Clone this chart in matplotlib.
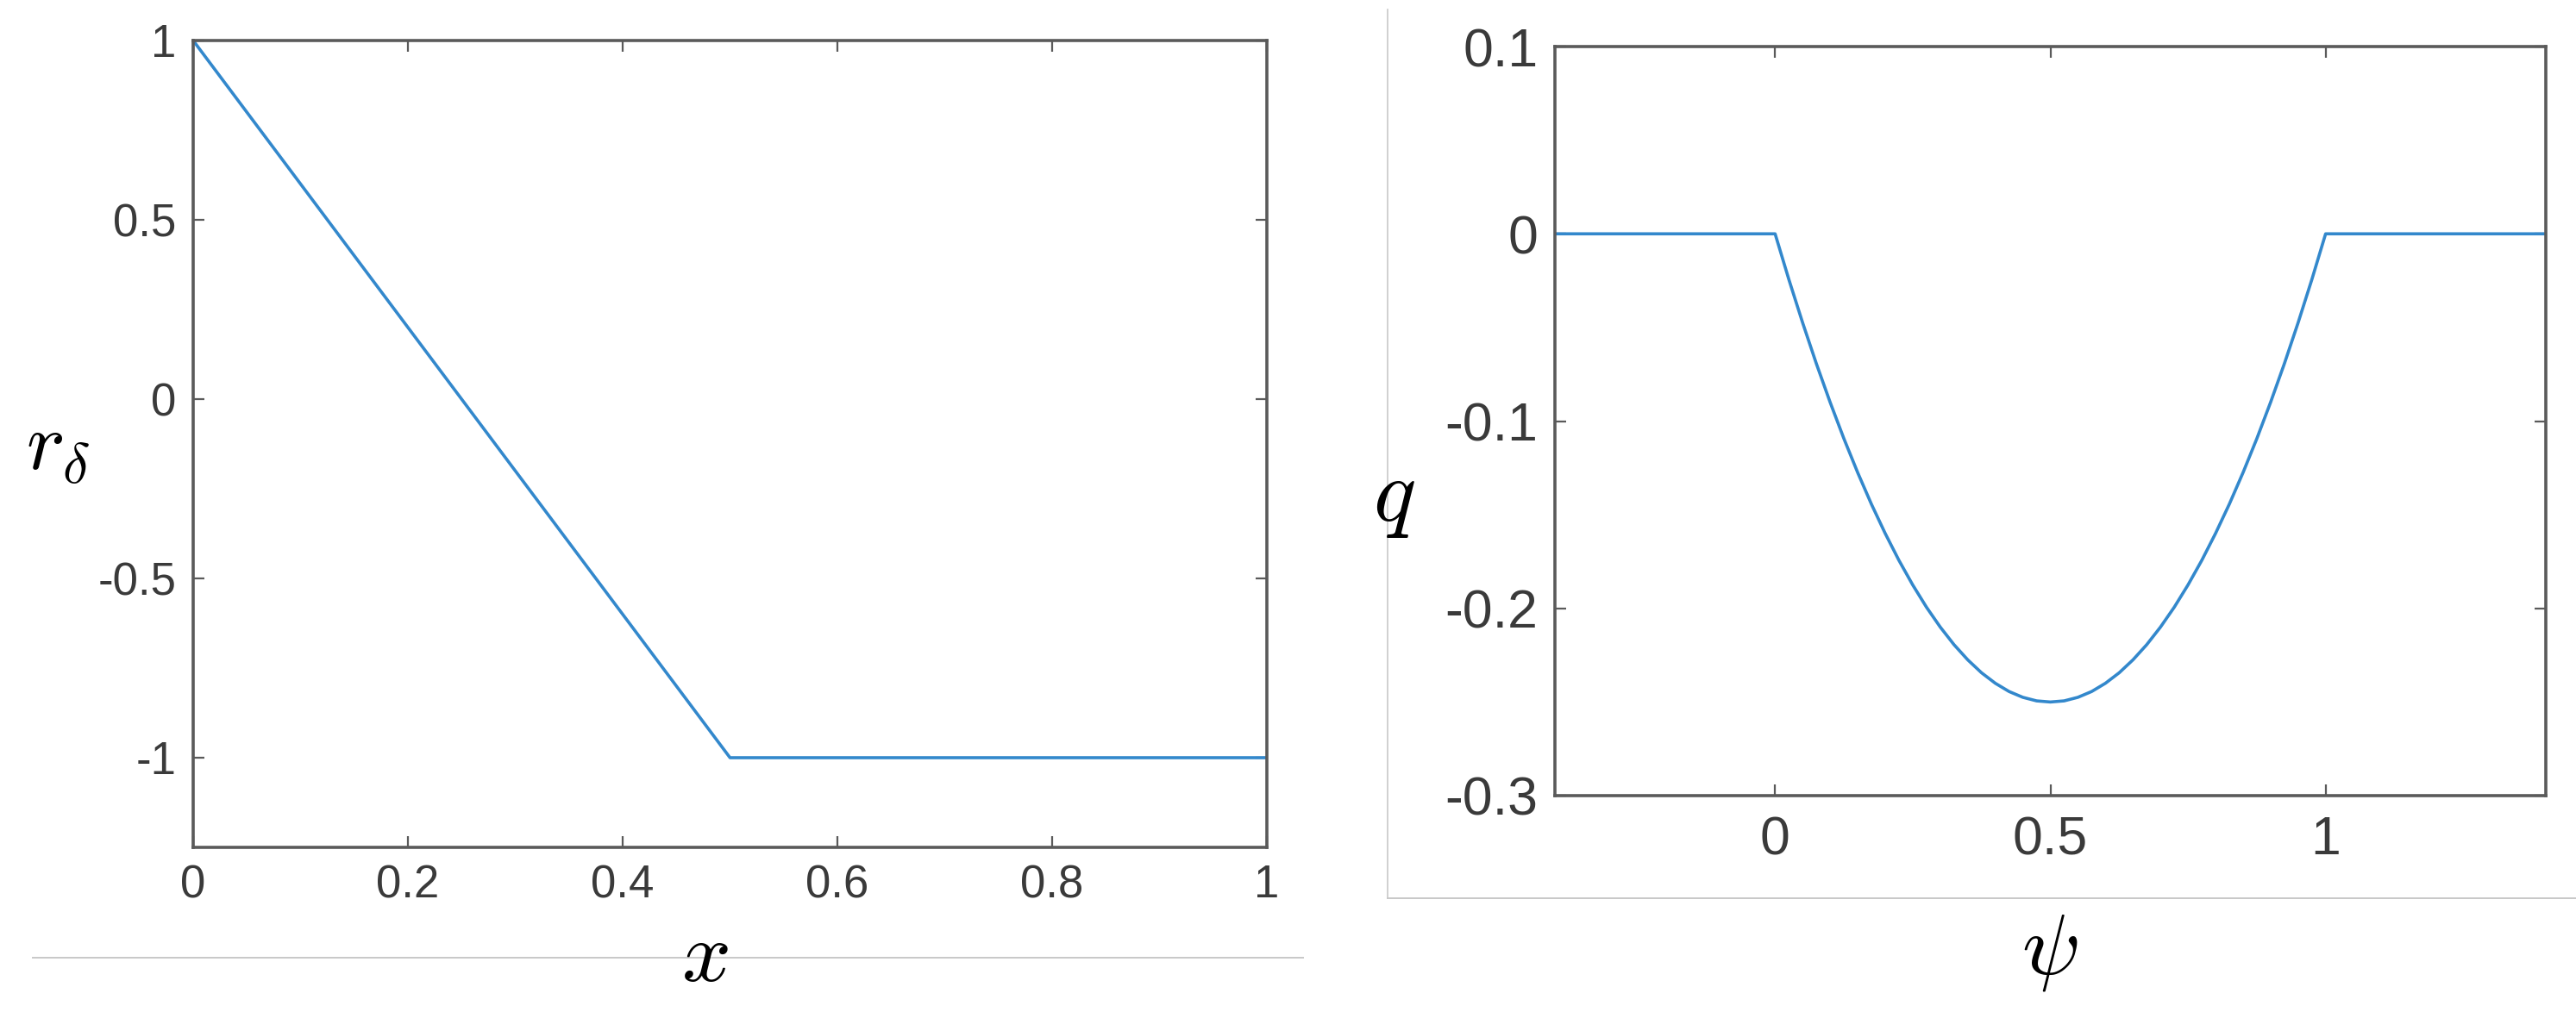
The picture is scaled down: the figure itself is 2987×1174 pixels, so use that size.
# Two side-by-side MATLAB-style panels: a piecewise-linear r_delta(x) and a
# parabolic well q(psi), recreated with matplotlib.

import matplotlib.pyplot as plt
from matplotlib.lines import Line2D

plt.rcParams['font.family'] = ['Liberation Sans', 'DejaVu Sans']
plt.rcParams['mathtext.fontset'] = 'cm'

# Left panel data
x_vals = [0.0, 0.5, 1.0]
r_vals = [1.0, -1.0, -1.0]
left_xticks = [0, 0.2, 0.4, 0.6, 0.8, 1]
left_xticklabels = ["0", "0.2", "0.4", "0.6", "0.8", "1"]
left_yticks = [-1, -0.5, 0, 0.5, 1]
left_yticklabels = ["-1", "-0.5", "0", "0.5", "1"]

# Right panel data
psi_vals = [-0.4, 0.0,
            0.025, 0.05, 0.075, 0.1, 0.125, 0.15, 0.175, 0.2, 0.225, 0.25,
            0.275, 0.3, 0.325, 0.35, 0.375, 0.4, 0.425, 0.45, 0.475, 0.5,
            0.525, 0.55, 0.575, 0.6, 0.625, 0.65, 0.675, 0.7, 0.725, 0.75,
            0.775, 0.8, 0.825, 0.85, 0.875, 0.9, 0.925, 0.95, 0.975, 1.0,
            1.4]
q_vals = [0.0, 0.0,
          -0.0244, -0.0475, -0.0694, -0.09, -0.1094, -0.1275, -0.1444, -0.16, -0.1744, -0.1875,
          -0.1994, -0.21, -0.2194, -0.2275, -0.2344, -0.24, -0.2444, -0.2475, -0.2494, -0.25,
          -0.2494, -0.2475, -0.2444, -0.24, -0.2344, -0.2275, -0.2194, -0.21, -0.1994, -0.1875,
          -0.1744, -0.16, -0.1444, -0.1275, -0.1094, -0.09, -0.0694, -0.0475, -0.0244, 0.0,
          0.0]
right_xticks = [0, 0.5, 1]
right_xticklabels = ["0", "0.5", "1"]
right_yticks = [-0.3, -0.2, -0.1, 0, 0.1]
right_yticklabels = ["-0.3", "-0.2", "-0.1", "0", "0.1"]

W, H = 2987, 1174
fig = plt.figure(figsize=(W / 100, H / 100), dpi=100)

line_color = '#3388cc'
spine_color = '#5a5a5a'
text_color = '#3a3a3a'


def style(ax, size, xpad, ypad):
    for s in ax.spines.values():
        s.set_color(spine_color)
        s.set_linewidth(2.6)
    ax.tick_params(direction='in', top=True, right=True, length=9.5, width=1.6,
                   color=spine_color, labelcolor=text_color, labelsize=size)
    ax.tick_params(axis='x', pad=xpad)
    ax.tick_params(axis='y', pad=ypad)


# Left panel
ax1 = fig.add_axes([224 / W, 1 - 983 / H, 1245 / W, 936 / H])
ax1.plot(x_vals, r_vals, color=line_color, lw=2.6)
ax1.set_xlim(0, 1)
ax1.set_ylim(-1.25, 1)
ax1.set_xticks(left_xticks, left_xticklabels)
ax1.set_yticks(left_yticks, left_yticklabels)
style(ax1, 38, 14, 14)
fig.text(817 / W, 1 - 1112 / H, r'$x$', fontsize=72, ha='center', va='center')
fig.text(67 / W, 1 - 520 / H, r'$r_\delta$', fontsize=68, ha='center', va='center')

# Right panel
ax2 = fig.add_axes([1803 / W, 1 - 923 / H, 1149 / W, 869 / H])
ax2.plot(psi_vals, q_vals, color=line_color, lw=2.6)
ax2.set_xlim(-0.4, 1.4)
ax2.set_ylim(-0.3, 0.1)
ax2.set_xticks(right_xticks, right_xticklabels)
ax2.set_yticks(right_yticks, right_yticklabels)
style(ax2, 45, 16, 14)
fig.text(2377 / W, 1 - 1105 / H, r'$\psi$', fontsize=72, ha='center', va='center')
fig.text(1616 / W, 1 - 577 / H, r'$q$', fontsize=74, ha='center', va='center')

# faint separator lines from the composed screenshot
sep = '#c8c8c8'
fig.add_artist(Line2D([38 / W, 1511 / W], [1 - 1111 / H] * 2, color=sep, lw=1.4))
fig.add_artist(Line2D([1609 / W, 1609 / W], [1 - 11 / H, 1 - 1042 / H], color=sep, lw=1.2))
fig.add_artist(Line2D([1609 / W, 1.0], [1 - 1042 / H] * 2, color=sep, lw=1.4))

fig.savefig('out.png', dpi=100)
